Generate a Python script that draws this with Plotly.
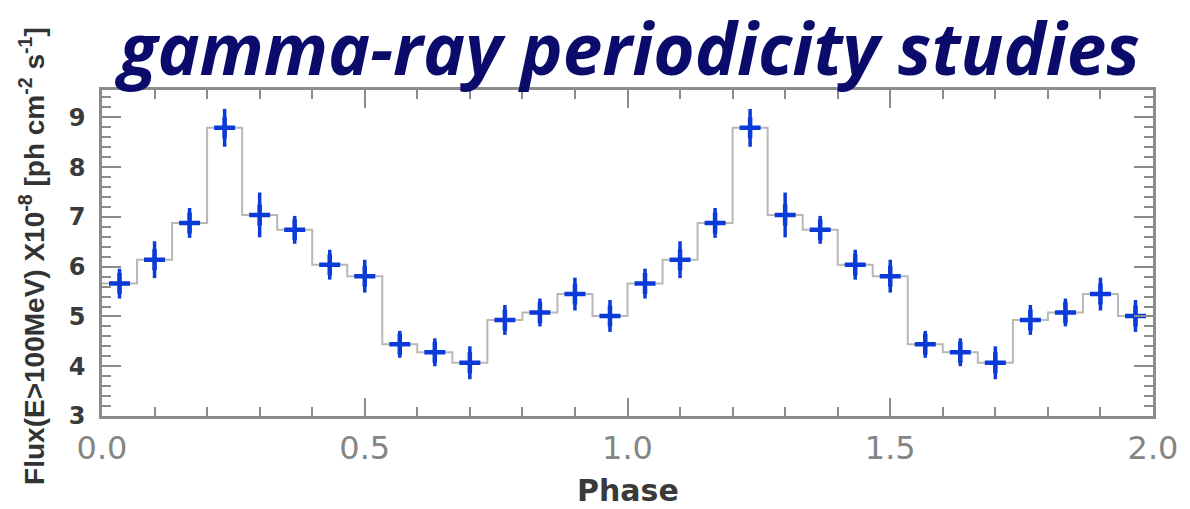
import plotly.graph_objects as go

# Folded gamma-ray light curve: 15 phase bins per cycle, shown over two cycles
n_bins = 15
n_cycles = 2
flux = [5.66, 6.14, 6.88, 8.79, 7.04, 6.74, 6.04, 5.81, 4.44, 4.28, 4.07, 4.93, 5.08, 5.45, 5.01]
flux_err = [0.30, 0.37, 0.30, 0.38, 0.45, 0.28, 0.30, 0.33, 0.27, 0.28, 0.33, 0.30, 0.28, 0.33, 0.32]
x_ticks = [0.0, 0.5, 1.0, 1.5, 2.0]
x_ticktext = ["0.0", "0.5", "1.0", "1.5", "2.0"]
y_ticks = [3, 4, 5, 6, 7, 8, 9]

bin_width = 1.0 / n_bins
flux_all = flux * n_cycles
err_all = flux_err * n_cycles
centers = [(i + 0.5) * bin_width for i in range(n_bins * n_cycles)]
edges = [i * bin_width for i in range(n_bins * n_cycles + 1)]

blue = "#0a3ad8"
axis_grey = "#8c8c8c"

fig = go.Figure()

# histogram outline
fig.add_trace(go.Scatter(
    x=edges, y=flux_all + [flux_all[-1]], mode="lines", line_shape="hv",
    line=dict(color="#b8b8b8", width=2), hoverinfo="skip", showlegend=False,
))

# data points with error bars
fig.add_trace(go.Scatter(
    x=centers, y=flux_all, mode="markers",
    marker=dict(symbol="cross-thin", size=15, line=dict(color=blue, width=4.5)),
    error_y=dict(type="data", array=err_all, color=blue, thickness=3.5, width=0),
    showlegend=False,
))

fig.update_layout(
    width=1190, height=509,
    margin=dict(l=102, r=35, t=90, b=93),
    paper_bgcolor="white", plot_bgcolor="white",
    xaxis=dict(
        range=[0, 2], tickvals=x_ticks, ticktext=x_ticktext,
        ticks="inside", ticklen=18, tickwidth=2, tickcolor=axis_grey,
        minor=dict(dtick=0.1, ticks="inside", ticklen=9, tickwidth=2, tickcolor=axis_grey),
        showline=True, linecolor=axis_grey, linewidth=2.5, mirror="allticks",
        showgrid=False, zeroline=False,
        tickfont=dict(family="DejaVu Sans", size=32, color="#858585"),
        ticklabelstandoff=2,
    ),
    yaxis=dict(
        range=[3, 9.55], tickvals=y_ticks,
        ticks="inside", ticklen=19, tickwidth=2, tickcolor=axis_grey,
        minor=dict(dtick=0.2, ticks="inside", ticklen=9, tickwidth=2, tickcolor=axis_grey),
        showline=True, linecolor=axis_grey, linewidth=2.5, mirror="allticks",
        showgrid=False, zeroline=False,
        tickfont=dict(family="DejaVu Sans", size=24, color="#3a3a3a", weight="bold"),
        ticklabelstandoff=9,
    ),
)

fig.add_annotation(
    text="<b><i>gamma-ray periodicity studies</i></b>",
    xref="paper", yref="paper", x=0.5, y=1.13, xanchor="center", yanchor="middle",
    showarrow=False, font=dict(family="Open Sans", size=71, color="#0b0b6b"),
)

fig.add_annotation(
    text="<b>Flux(E>100MeV) X10<sup>-8</sup> [ph cm<sup>-2</sup> s<sup>-1</sup>]</b>",
    xref="paper", yref="paper", x=-0.066, y=0.49, xanchor="center", yanchor="middle",
    textangle=-90, showarrow=False,
    font=dict(family="Liberation Sans", size=28, color="#333333"),
)

fig.add_annotation(
    text="<b>Phase</b>",
    xref="paper", yref="paper", x=0.5, y=-0.228, xanchor="center", yanchor="middle",
    showarrow=False, font=dict(family="DejaVu Sans", size=30, color="#3a3a3a"),
)

fig.write_html("out.html")
